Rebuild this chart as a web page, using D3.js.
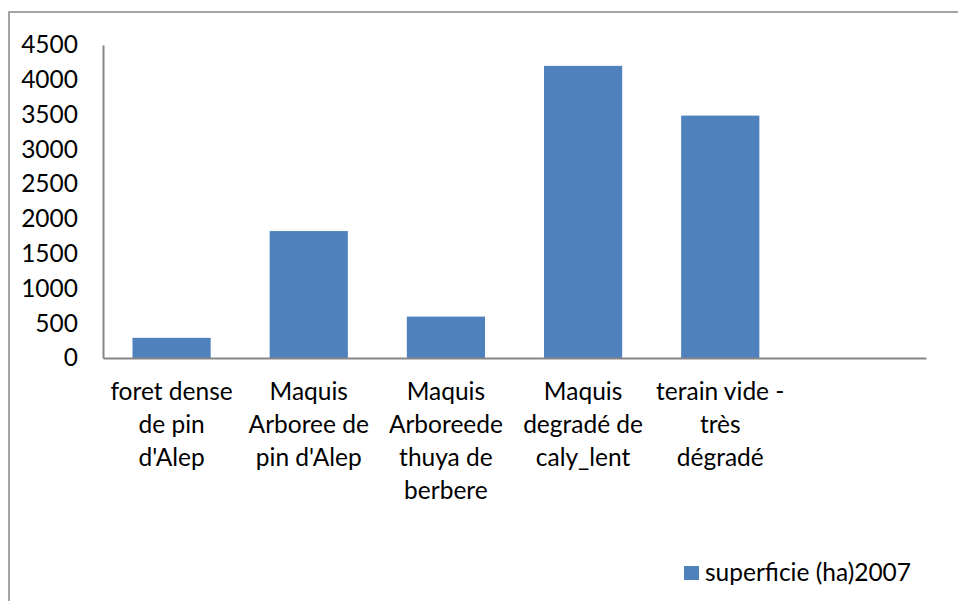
<html>
<head>
<script src="https://d3js.org/d3.v7.min.js"></script>
<style>
  body { margin: 0; background: #fff; }
  text { font-family: Lato, "Open Sans", sans-serif; fill: #000; }
</style>
</head>
<body>
<script>
// categories (line breaks as in the original labels), last slot is empty
var categories = [
  ["foret dense", "de pin", "d'Alep"],
  ["Maquis", "Arboree de", "pin d'Alep"],
  ["Maquis", "Arboreede", "thuya de", "berbere"],
  ["Maquis", "degradé de", "caly_lent"],
  ["terain vide -", "très", "dégradé"],
  [""]
];
var values = [290, 1825, 595, 4200, 3485, null];
var yTicks = [0, 500, 1000, 1500, 2000, 2500, 3000, 3500, 4000, 4500];
var seriesName = "superficie (ha)2007";

var W = 958, H = 601;
var plotLeft = 103, plotRight = 926, plotTop = 45, plotBottom = 358;
var fontSize = "24.5px";

var svg = d3.select("body").append("svg")
    .attr("width", W)
    .attr("height", H);

// outer frame
svg.append("rect")
    .attr("x", 9).attr("y", 12)
    .attr("width", W + 20).attr("height", H + 20)
    .attr("fill", "none")
    .attr("stroke", "#868686")
    .attr("stroke-width", 1.5);

var keys = d3.range(categories.length);
var x = d3.scaleBand().domain(keys).range([plotLeft, plotRight]).paddingInner(0.43).paddingOuter(0.215);
var y = d3.scaleLinear().domain([0, 4500]).range([plotBottom, plotTop]);

// bars
svg.selectAll(".bar")
    .data(keys.filter(function(i) { return values[i] != null; }))
    .enter().append("rect")
    .attr("class", "bar")
    .attr("x", function(i) { return x(i); })
    .attr("width", x.bandwidth())
    .attr("y", function(i) { return y(values[i]); })
    .attr("height", function(i) { return y(0) - y(values[i]); })
    .attr("fill", "#4F81BD");

// y axis
var yAxis = svg.append("g")
    .attr("transform", "translate(" + plotLeft + ",0)")
    .call(d3.axisLeft(y).tickValues(yTicks).tickSize(0).tickPadding(25).tickFormat(d3.format("d")));
yAxis.select(".domain").attr("stroke", "#868686").attr("stroke-width", 2);
yAxis.selectAll("text").style("font-size", fontSize).attr("font-family", null);

// x axis
var xAxis = svg.append("g")
    .attr("transform", "translate(0," + plotBottom + ")")
    .call(d3.axisBottom(x).tickSize(0).tickFormat(""));
xAxis.select(".domain").attr("stroke", "#868686").attr("stroke-width", 2);

// category labels
var lab = svg.append("g").selectAll("text")
    .data(keys)
    .enter().append("text")
    .attr("text-anchor", "middle")
    .attr("x", function(i) { return x(i) + x.bandwidth() / 2; })
    .attr("y", 400)
    .style("font-size", fontSize);
lab.selectAll("tspan")
    .data(function(i) { return categories[i]; })
    .enter().append("tspan")
    .attr("x", function() { return d3.select(this.parentNode).attr("x"); })
    .attr("dy", function(d, j) { return j === 0 ? 0 : 33; })
    .text(function(d) { return d; });

// legend
svg.append("rect")
    .attr("x", 684).attr("y", 566)
    .attr("width", 15).attr("height", 14)
    .attr("fill", "#4F81BD");
svg.append("text")
    .attr("x", 705).attr("y", 581)
    .style("font-size", fontSize)
    .text(seriesName);
</script>
</body>
</html>
